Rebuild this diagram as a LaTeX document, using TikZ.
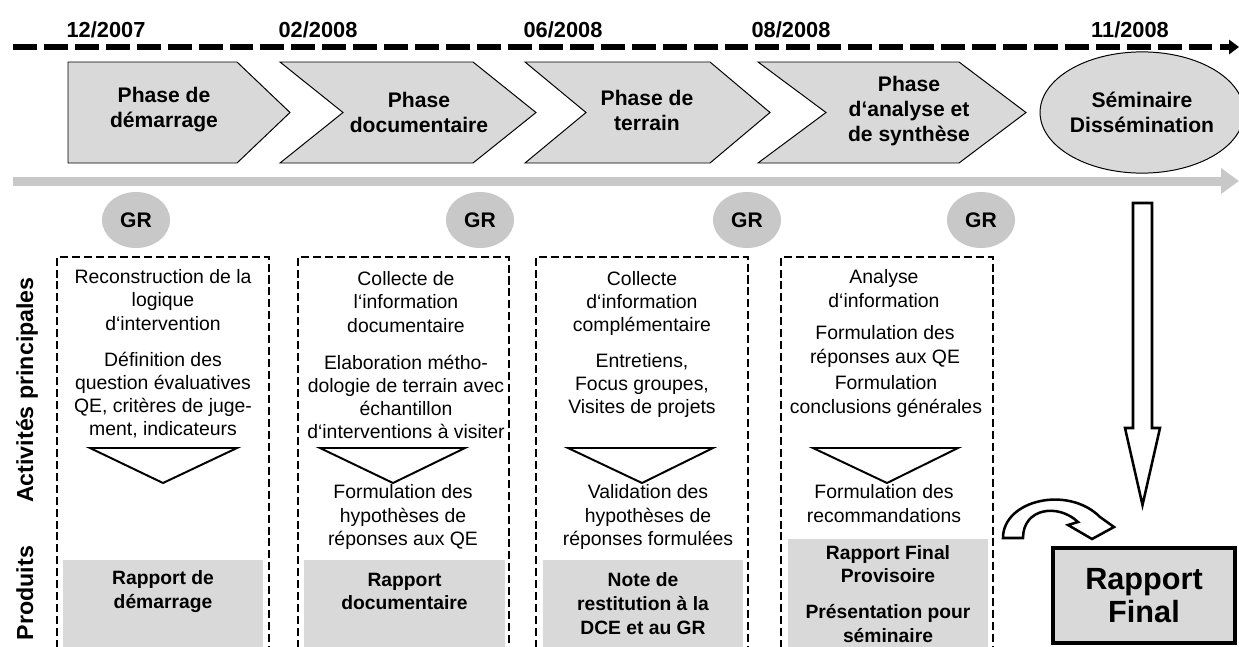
\documentclass[tikz,border=0pt]{standalone}
\usepackage{fontspec}
\setmainfont{Liberation Sans}
\usepackage{xcolor}
\usepackage{tikz}
\usetikzlibrary{arrows.meta,shapes.geometric}

\definecolor{phasegray}{HTML}{D9D9D9}
\definecolor{bargray}{HTML}{C8C8C8}

\begin{document}
\begin{tikzpicture}[
  x=0.025cm, y=-0.025cm,
  every node/.style={inner sep=0pt, align=center},
  date/.style={font=\fontsize{15.5}{18}\selectfont\bfseries},
  phase/.style={font=\fontsize{15}{17.8}\selectfont\bfseries},
  chev/.style={draw, fill=phasegray, line width=0.7pt},
  semi/.style={ellipse, draw, fill=phasegray, line width=0.7pt, minimum width=4.8cm, minimum height=3.03cm},
  gr/.style={ellipse, fill=bargray, minimum width=1.7cm, minimum height=1.4cm, font=\fontsize{15}{18}\selectfont\bfseries},
  txt/.style={font=\fontsize{13.8}{16.5}\selectfont},
  prod/.style={font=\fontsize{13.7}{16.8}\selectfont\bfseries},
  prodbox/.style={fill=phasegray},
  frame/.style={draw, line width=1.9pt, dash pattern=on 5.7pt off 2.8pt},
  funnel/.style={draw, line width=1.4pt, fill=white, line join=miter},
  block/.style={draw, line width=1.8pt, fill=white, line join=miter},
  lbl/.style={font=\fontsize{16.5}{19}\selectfont\bfseries, rotate=90, anchor=base},
  final/.style={draw, fill=phasegray, line width=2.8pt, minimum width=4.55cm, minimum height=2.37cm, font=\fontsize{21.8}{23.4}\selectfont\bfseries}
]
\useasboundingbox (0,0) rectangle (1239,646);

\coordinate (tl0) at (13,47);
\coordinate (tl1) at (1239,47);
\coordinate (bar0) at (13,181);
\coordinate (bar1) at (1239,181);
\draw[line width=3.9pt, dash pattern=on 17pt off 5pt, -{Triangle[length=7pt,width=10pt]}] (tl0) -- (tl1);
\draw[bargray, line width=6.4pt, -{Triangle[length=12.8pt,width=17.7pt]}] (bar0) -- (bar1);

\node[date] (d1) at (106,30) {12/2007};
\node[date] (d2) at (318,30) {02/2008};
\node[date] (d3) at (563,30) {06/2008};
\node[date] (d4) at (791,30) {08/2008};
\node[date] (d5) at (1130,30) {11/2008};

\draw[chev] (68,62) -- (237,62) -- (290,112.5) -- (237,163) -- (68,163) -- cycle;
\draw[chev] (280,62) -- (473,62) -- (536,112.5) -- (473,163) -- (280,163) -- (343,112.5) -- cycle;
\draw[chev] (525,62) -- (710,62) -- (770,112.5) -- (710,163) -- (525,163) -- (586,112.5) -- cycle;
\draw[chev] (758,62) -- (959,62) -- (1026,112.5) -- (959,163) -- (758,163) -- (826,112.5) -- cycle;
\node[phase] (ph1) at (164,110) {Phase de\\démarrage};
\node[phase] (ph2) at (419,112) {Phase\\documentaire};
\node[phase] (ph3) at (647,110) {Phase de\\terrain};
\node[phase] (ph4) at (909,111) {Phase\\d‘analyse et\\de synthèse};
\node[semi, phase] (sem) at (1142,112.5) {Séminaire\\Dissémination};

\node[gr] (gr1) at (136,220) {GR};
\node[gr] (gr2) at (480,220) {GR};
\node[gr] (gr3) at (747,220) {GR};
\node[gr] (gr4) at (981,220) {GR};

\node[lbl] (act) at (33,390) {Activités principales};
\node[lbl] (prd) at (33,593) {Produits};

\fill[prodbox] (63,560) rectangle (263,650);
\fill[prodbox] (304,560) rectangle (505,650);
\fill[prodbox] (543,560) rectangle (743,650);
\fill[prodbox] (788,539) rectangle (988,650);
\draw[frame] (57,660) -- (57,257) -- (269,257) -- (269,660);
\draw[frame] (298,660) -- (298,257) -- (509,257) -- (509,660);
\draw[frame] (536,660) -- (536,257) -- (748,257) -- (748,660);
\draw[frame] (781,660) -- (781,257) -- (993,257) -- (993,660);

\draw[funnel] (90,448) -- (237,448) -- (163,483) -- cycle;
\draw[funnel] (320,448) -- (465,448) -- (393,483) -- cycle;
\draw[funnel] (568,448) -- (713,448) -- (642,483) -- cycle;
\draw[funnel] (813,448) -- (958,448) -- (887,483) -- cycle;

\node[txt] (a1) at (163,300) {Reconstruction de la\\logique\\d‘intervention};
\node[txt] (b1) at (163,395) {Définition des\\question évaluatives\\QE, critères de juge-\\ment, indicateurs};
\node[prod] (p1) at (163,591.5) {Rapport de\\démarrage};

\node[txt] (a2) at (406,302) {Collecte de\\l‘information\\documentaire};
\node[txt] (b2) at (406,397) {Elaboration métho-\\dologie de terrain avec\\échantillon\\d‘interventions à visiter};
\node[txt] (c2) at (403,517) {Formulation des\\hypothèses de\\réponses aux QE};
\node[prod] (p2) at (404.5,591.5) {Rapport\\documentaire};

\node[txt] (a3) at (642,303.5) {Collecte\\d‘information\\complémentaire};
\node[txt] (b3) at (642,385.5) {Entretiens,\\Focus groupes,\\Visites de projets};
\node[txt] (c3) at (648,517) {Validation des\\hypothèses de\\réponses formulées};
\node[prod] (p3) at (643,603.5) {Note de\\restitution à la\\DCE et au GR};

\node[txt] (a4) at (884,288.5) {Analyse\\d‘information};
\node[txt] (b4) at (885,346.5) {Formulation des\\réponses aux QE};
\node[txt] (c4) at (886,396.5) {Formulation\\conclusions générales};
\node[txt] (e4) at (884,503.5) {Formulation des\\recommandations};
\node[prod] (p4) at (888,564) {Rapport Final\\Provisoire};
\node[prod] (q4) at (888,623.5) {Présentation pour\\séminaire};

\draw[block] (1133,203) -- (1152,203) -- (1152,428) -- (1160,428) -- (1142.5,505) -- (1125,428) -- (1133,428) -- cycle;
\draw[block] (1003,538) .. controls (1003,500) and (1068,485) .. (1100,517) -- (1114,527) -- (1092,539) -- (1068,525) -- (1078,522) .. controls (1058,503) and (1023,508) .. (1023,538) -- cycle;

\node[final] (rf) at (1144,595.5) {Rapport\\Final};
\end{tikzpicture}
\end{document}
